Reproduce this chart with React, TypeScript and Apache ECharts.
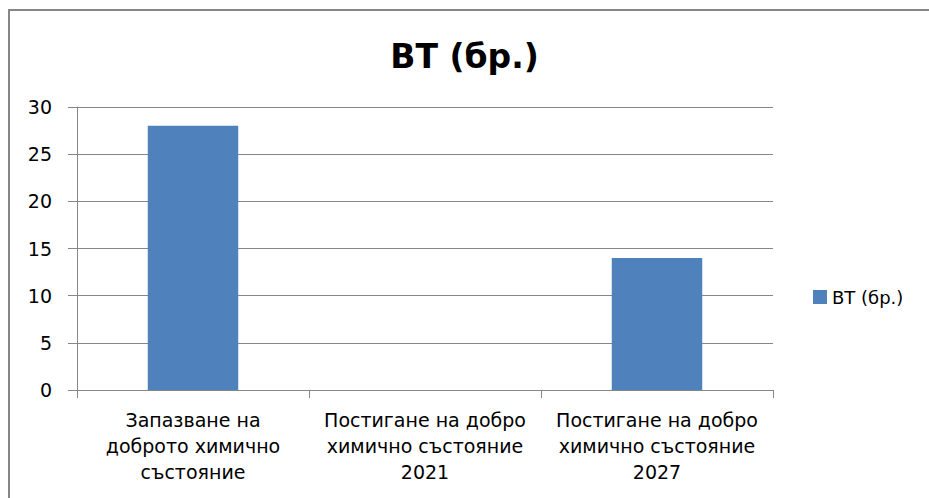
import React, { useEffect, useRef } from "react";
import * as echarts from "echarts";

const title = "ВТ (бр.)";
const seriesName = "ВТ (бр.)";
const categories = [
  "Запазване на\nдоброто химично\nсъстояние",
  "Постигане на добро\nхимично състояние\n2021",
  "Постигане на добро\nхимично състояние\n2027",
];
const values = [28, 0, 14];
const yMin = 0;
const yMax = 30;
const yInterval = 5;

export default function App() {
  const ref = useRef<HTMLDivElement>(null);
  useEffect(() => {
    if (!ref.current) return;
    const chart = echarts.init(ref.current, null, { renderer: "svg" });
    const font = "DejaVu Sans";
    chart.setOption({
      animation: false,
      backgroundColor: "#ffffff",
      graphic: [
        {
          type: "rect",
          shape: { x: 9, y: 10, width: 960, height: 520 },
          style: { fill: "none", stroke: "#868686", lineWidth: 2 },
          silent: true,
        },
      ],
      title: {
        text: title,
        left: "center",
        top: 35,
        textStyle: { fontFamily: font, fontWeight: "bold", fontSize: 33, color: "#000" },
      },
      legend: {
        left: 808,
        top: 283,
        itemWidth: 14,
        itemHeight: 14,
        icon: "rect",
        textStyle: { fontFamily: font, fontSize: 18, color: "#000" },
        data: [seriesName],
      },
      grid: { left: 77, right: 156, top: 107, bottom: 108 },
      xAxis: {
        type: "category",
        data: categories,
        axisLine: { lineStyle: { color: "#868686", width: 1 } },
        axisTick: { show: true, length: 8, lineStyle: { color: "#868686" } },
        axisLabel: {
          interval: 0,
          margin: 17,
          fontFamily: font,
          fontSize: 19,
          lineHeight: 26,
          color: "#000",
          align: "center",
        },
      },
      yAxis: {
        type: "value",
        min: yMin,
        max: yMax,
        interval: yInterval,
        axisLine: { show: true, lineStyle: { color: "#868686", width: 1 } },
        axisTick: { show: true, length: 9, lineStyle: { color: "#868686" } },
        splitLine: { show: true, lineStyle: { color: "#868686", width: 1 } },
        axisLabel: { margin: 25, fontFamily: font, fontSize: 19, color: "#000" },
      },
      series: [
        {
          name: seriesName,
          type: "bar",
          data: values,
          barWidth: "39%",
          itemStyle: { color: "#4F81BD" },
        },
      ],
    });
    return () => chart.dispose();
  }, []);
  return (
    <div
      ref={ref}
      style={{ position: "fixed", left: 0, top: 0, width: 929, height: 498 }}
    />
  );
}
